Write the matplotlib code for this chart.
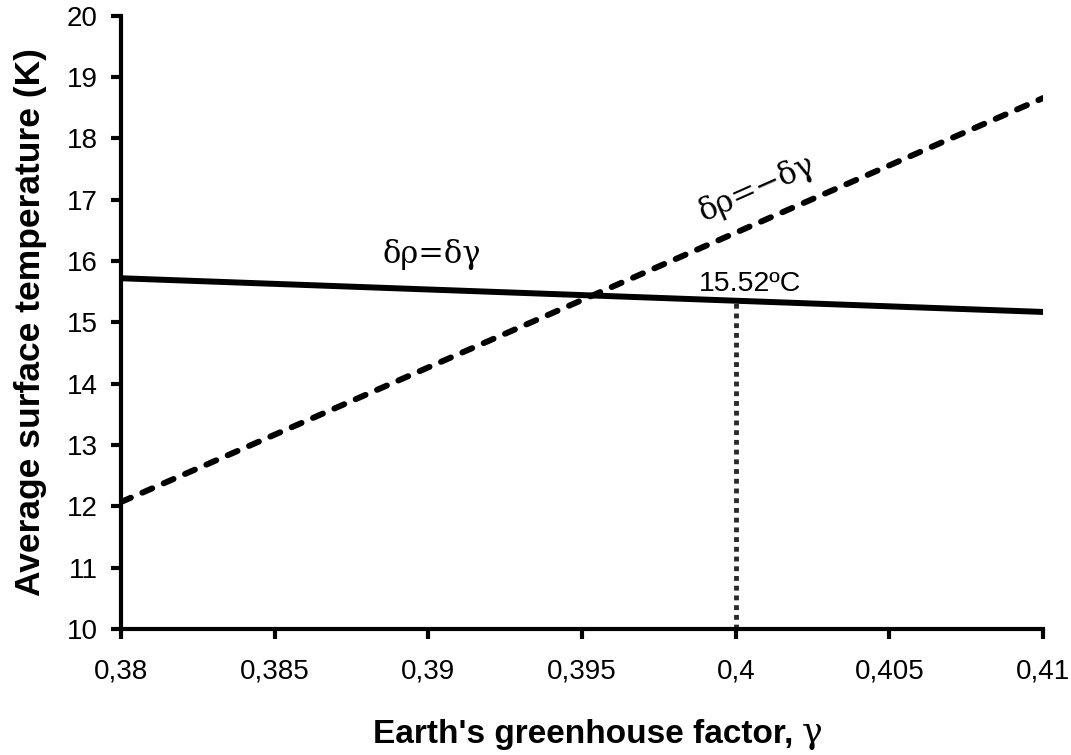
import matplotlib
matplotlib.use("Agg")
import matplotlib.pyplot as plt

# Data
gamma = [0.38, 0.41]
temp_same = [15.72, 15.17]      # delta rho = delta gamma
temp_opposite = [12.07, 18.66]  # delta rho = -delta gamma
gamma_mark = 0.40
temp_mark = 15.35
mark_label = "15.52ºC"

xticks = [0.38, 0.385, 0.39, 0.395, 0.40, 0.405, 0.41]
xtick_labels = ["0,38", "0,385", "0,39", "0,395", "0,4", "0,405", "0,41"]
yticks = list(range(10, 21))

plt.rcParams['font.family'] = ['Liberation Sans', 'DejaVu Sans']
greek = ['DejaVu Serif', 'Liberation Serif']

fig = plt.figure(figsize=(10.71, 7.55), dpi=100)
ax = fig.add_axes([0.113, 0.167, 0.861, 0.812])

ax.plot(gamma, temp_same, color='black', lw=4.3, solid_capstyle='round')
ax.plot(gamma, temp_opposite, color='black', lw=4.3, linestyle=(0, (1.8, 2.1)),
        dash_capstyle='round')
ax.plot([gamma_mark, gamma_mark], [10, temp_mark], color='#2a2a2a', lw=3.5,
        linestyle=(0, (1, 1)))

ax.text(0.3901, 16.10, "δρ=δγ", family=greek, fontsize=22, ha='center', va='center')
ax.text(0.4007, 17.19, "δρ=−δγ", family=greek, fontsize=22, ha='center', va='center',
        rotation=24)
ax.text(0.40046, 15.52, mark_label, fontsize=20.5, ha='center', va='baseline')

ax.set_xlim(0.38, 0.41)
ax.set_ylim(10, 20)
ax.set_xticks(xticks)
ax.set_xticklabels(xtick_labels)
ax.set_yticks(yticks)

for s in ['top', 'right']:
    ax.spines[s].set_visible(False)
for s in ['left', 'bottom']:
    ax.spines[s].set_linewidth(3)
ax.tick_params(axis='both', which='major', length=7, width=3, labelsize=20, pad=10)
ax.tick_params(axis='x', pad=14)

# x label built from two texts so the gamma can use a serif Greek face
ax.text(0.729, -0.186, "Earth's greenhouse factor,", transform=ax.transAxes,
        fontsize=24, fontweight='bold', ha='right', va='baseline')
ax.text(0.7386, -0.186, "γ", transform=ax.transAxes, family=greek,
        fontsize=25, ha='left', va='baseline')
ax.set_ylabel("Average surface temperature (K)", fontsize=25.5, fontweight='bold',
              labelpad=14)

fig.savefig("out.png", dpi=100)
